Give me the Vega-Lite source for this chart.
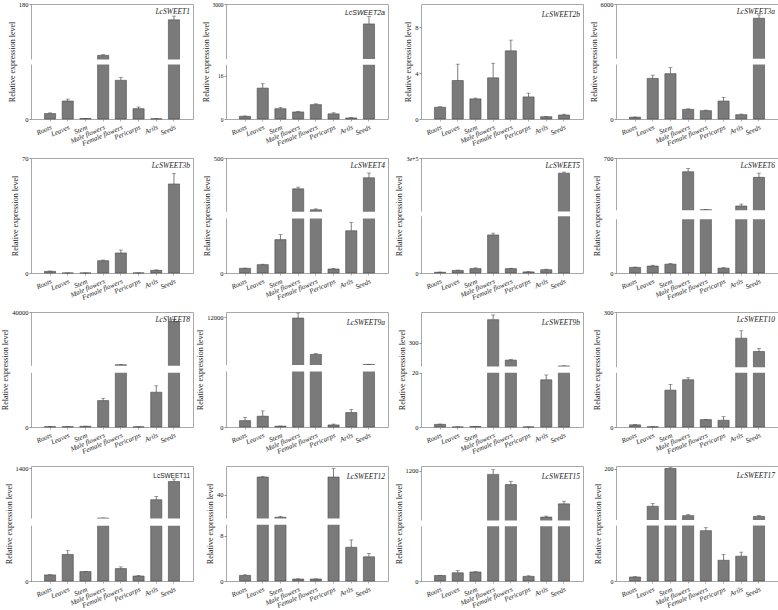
{
"$schema":"https://vega.github.io/schema/vega-lite/v6.json",
"padding":{"left":1,"top":0,"right":0,"bottom":0},
"background":"white",
"datasets":{"expr":[
{"gene":"LcSWEET1","tissue":"Roots","value":1.0,"upper":1.12},{"gene":"LcSWEET1","tissue":"Leaves","value":3.3,"upper":3.65},{"gene":"LcSWEET1","tissue":"Stem","value":0.1,"upper":0.12},{"gene":"LcSWEET1","tissue":"Male flowers","value":31,"upper":33},{"gene":"LcSWEET1","tissue":"Female flowers","value":7.1,"upper":7.65},{"gene":"LcSWEET1","tissue":"Pericarps","value":1.9,"upper":2.2},{"gene":"LcSWEET1","tissue":"Arils","value":0.05,"upper":0.06},{"gene":"LcSWEET1","tissue":"Seeds","value":134,"upper":145},
{"gene":"LcSWEET2a","tissue":"Roots","value":1.0,"upper":1.1},{"gene":"LcSWEET2a","tissue":"Leaves","value":11.4,"upper":13.0},{"gene":"LcSWEET2a","tissue":"Stem","value":3.8,"upper":4.2},{"gene":"LcSWEET2a","tissue":"Male flowers","value":2.6,"upper":2.8},{"gene":"LcSWEET2a","tissue":"Female flowers","value":5.3,"upper":5.6},{"gene":"LcSWEET2a","tissue":"Pericarps","value":1.9,"upper":2.3},{"gene":"LcSWEET2a","tissue":"Arils","value":0.4,"upper":0.5},{"gene":"LcSWEET2a","tissue":"Seeds","value":2270,"upper":2540},
{"gene":"LcSWEET2b","tissue":"Roots","value":1.02,"upper":1.07},{"gene":"LcSWEET2b","tissue":"Leaves","value":3.35,"upper":4.77},{"gene":"LcSWEET2b","tissue":"Stem","value":1.75,"upper":1.82},{"gene":"LcSWEET2b","tissue":"Male flowers","value":3.58,"upper":4.85},{"gene":"LcSWEET2b","tissue":"Female flowers","value":5.93,"upper":6.86},{"gene":"LcSWEET2b","tissue":"Pericarps","value":1.92,"upper":2.25},{"gene":"LcSWEET2b","tissue":"Arils","value":0.2,"upper":0.22},{"gene":"LcSWEET2b","tissue":"Seeds","value":0.35,"upper":0.42},
{"gene":"LcSWEET3a","tissue":"Roots","value":1.0,"upper":1.1},{"gene":"LcSWEET3a","tissue":"Leaves","value":22.4,"upper":24.2},{"gene":"LcSWEET3a","tissue":"Stem","value":25.0,"upper":28.3},{"gene":"LcSWEET3a","tissue":"Male flowers","value":5.3,"upper":5.6},{"gene":"LcSWEET3a","tissue":"Female flowers","value":4.6,"upper":4.9},{"gene":"LcSWEET3a","tissue":"Pericarps","value":9.9,"upper":11.9},{"gene":"LcSWEET3a","tissue":"Arils","value":2.4,"upper":2.7},{"gene":"LcSWEET3a","tissue":"Seeds","value":4700,"upper":5000},
{"gene":"LcSWEET3b","tissue":"Roots","value":1.0,"upper":1.2},{"gene":"LcSWEET3b","tissue":"Leaves","value":0.02,"upper":0.02},{"gene":"LcSWEET3b","tissue":"Stem","value":0.02,"upper":0.02},{"gene":"LcSWEET3b","tissue":"Male flowers","value":7.5,"upper":7.9},{"gene":"LcSWEET3b","tissue":"Female flowers","value":12.2,"upper":14.0},{"gene":"LcSWEET3b","tissue":"Pericarps","value":0.05,"upper":0.05},{"gene":"LcSWEET3b","tissue":"Arils","value":1.6,"upper":1.9},{"gene":"LcSWEET3b","tissue":"Seeds","value":54.2,"upper":60.6},
{"gene":"LcSWEET4","tissue":"Roots","value":1.03,"upper":1.08},{"gene":"LcSWEET4","tissue":"Leaves","value":1.84,"upper":1.94},{"gene":"LcSWEET4","tissue":"Stem","value":7.35,"upper":8.45},{"gene":"LcSWEET4","tissue":"Male flowers","value":246,"upper":260},{"gene":"LcSWEET4","tissue":"Female flowers","value":73,"upper":80},{"gene":"LcSWEET4","tissue":"Pericarps","value":0.88,"upper":1.03},{"gene":"LcSWEET4","tissue":"Arils","value":9.3,"upper":11.1},{"gene":"LcSWEET4","tissue":"Seeds","value":337,"upper":376},
{"gene":"LcSWEET5","tissue":"Roots","value":2,"upper":2.5},{"gene":"LcSWEET5","tissue":"Leaves","value":7,"upper":8},{"gene":"LcSWEET5","tissue":"Stem","value":12,"upper":14},{"gene":"LcSWEET5","tissue":"Male flowers","value":104,"upper":109},{"gene":"LcSWEET5","tissue":"Female flowers","value":12,"upper":13},{"gene":"LcSWEET5","tissue":"Pericarps","value":3,"upper":3.5},{"gene":"LcSWEET5","tissue":"Arils","value":9,"upper":10.5},{"gene":"LcSWEET5","tissue":"Seeds","value":215000,"upper":221000},
{"gene":"LcSWEET6","tissue":"Roots","value":1.05,"upper":1.1},{"gene":"LcSWEET6","tissue":"Leaves","value":1.3,"upper":1.45},{"gene":"LcSWEET6","tissue":"Stem","value":1.65,"upper":1.75},{"gene":"LcSWEET6","tissue":"Male flowers","value":528,"upper":570},{"gene":"LcSWEET6","tissue":"Female flowers","value":54,"upper":55},{"gene":"LcSWEET6","tissue":"Pericarps","value":0.9,"upper":1.0},{"gene":"LcSWEET6","tissue":"Arils","value":100,"upper":124},{"gene":"LcSWEET6","tissue":"Seeds","value":458,"upper":511},
{"gene":"LcSWEET8","tissue":"Roots","value":1,"upper":1.2},{"gene":"LcSWEET8","tissue":"Leaves","value":1,"upper":1.2},{"gene":"LcSWEET8","tissue":"Stem","value":2,"upper":2.5},{"gene":"LcSWEET8","tissue":"Male flowers","value":79,"upper":86},{"gene":"LcSWEET8","tissue":"Female flowers","value":1500,"upper":1600},{"gene":"LcSWEET8","tissue":"Pericarps","value":0.5,"upper":0.6},{"gene":"LcSWEET8","tissue":"Arils","value":104,"upper":123},{"gene":"LcSWEET8","tissue":"Seeds","value":33000,"upper":34600},
{"gene":"LcSWEET9a","tissue":"Roots","value":1.15,"upper":1.75},{"gene":"LcSWEET9a","tissue":"Leaves","value":1.95,"upper":2.9},{"gene":"LcSWEET9a","tissue":"Stem","value":0.15,"upper":0.17},{"gene":"LcSWEET9a","tissue":"Male flowers","value":11750,"upper":13000},{"gene":"LcSWEET9a","tissue":"Female flowers","value":2750,"upper":3000},{"gene":"LcSWEET9a","tissue":"Pericarps","value":0.37,"upper":0.52},{"gene":"LcSWEET9a","tissue":"Arils","value":2.6,"upper":3.15},{"gene":"LcSWEET9a","tissue":"Seeds","value":250,"upper":260},
{"gene":"LcSWEET9b","tissue":"Roots","value":0.98,"upper":1.1},{"gene":"LcSWEET9b","tissue":"Leaves","value":0.02,"upper":0.02},{"gene":"LcSWEET9b","tissue":"Stem","value":0.2,"upper":0.22},{"gene":"LcSWEET9b","tissue":"Male flowers","value":550,"upper":600},{"gene":"LcSWEET9b","tissue":"Female flowers","value":115,"upper":120},{"gene":"LcSWEET9b","tissue":"Pericarps","value":0.02,"upper":0.02},{"gene":"LcSWEET9b","tissue":"Arils","value":17.4,"upper":19.2},{"gene":"LcSWEET9b","tissue":"Seeds","value":52,"upper":53},
{"gene":"LcSWEET10","tissue":"Roots","value":1.0,"upper":1.1},{"gene":"LcSWEET10","tissue":"Leaves","value":0.1,"upper":0.12},{"gene":"LcSWEET10","tissue":"Stem","value":17.0,"upper":19.6},{"gene":"LcSWEET10","tissue":"Male flowers","value":21.8,"upper":22.7},{"gene":"LcSWEET10","tissue":"Female flowers","value":3.4,"upper":3.5},{"gene":"LcSWEET10","tissue":"Pericarps","value":3.1,"upper":4.75},{"gene":"LcSWEET10","tissue":"Arils","value":180,"upper":214},{"gene":"LcSWEET10","tissue":"Seeds","value":119,"upper":133},
{"gene":"LcSWEET11","tissue":"Roots","value":1.1,"upper":1.15},{"gene":"LcSWEET11","tissue":"Leaves","value":4.8,"upper":5.5},{"gene":"LcSWEET11","tissue":"Stem","value":1.7,"upper":1.75},{"gene":"LcSWEET11","tissue":"Male flowers","value":60,"upper":61},{"gene":"LcSWEET11","tissue":"Female flowers","value":2.25,"upper":2.55},{"gene":"LcSWEET11","tissue":"Pericarps","value":0.9,"upper":1.0},{"gene":"LcSWEET11","tissue":"Arils","value":555,"upper":645},{"gene":"LcSWEET11","tissue":"Seeds","value":1045,"upper":1110},
{"gene":"LcSWEET12","tissue":"Roots","value":1.0,"upper":1.1},{"gene":"LcSWEET12","tissue":"Leaves","value":59,"upper":59.8},{"gene":"LcSWEET12","tissue":"Stem","value":15.3,"upper":16.3},{"gene":"LcSWEET12","tissue":"Male flowers","value":0.35,"upper":0.38},{"gene":"LcSWEET12","tissue":"Female flowers","value":0.35,"upper":0.38},{"gene":"LcSWEET12","tissue":"Pericarps","value":59,"upper":68.5},{"gene":"LcSWEET12","tissue":"Arils","value":6.0,"upper":7.3},{"gene":"LcSWEET12","tissue":"Seeds","value":4.3,"upper":4.9},
{"gene":"LcSWEET15","tissue":"Roots","value":1.0,"upper":1.05},{"gene":"LcSWEET15","tissue":"Leaves","value":1.5,"upper":1.9},{"gene":"LcSWEET15","tissue":"Stem","value":1.65,"upper":1.7},{"gene":"LcSWEET15","tissue":"Male flowers","value":1116,"upper":1218},{"gene":"LcSWEET15","tissue":"Female flowers","value":891,"upper":964},{"gene":"LcSWEET15","tissue":"Pericarps","value":0.85,"upper":0.95},{"gene":"LcSWEET15","tissue":"Arils","value":178,"upper":200},{"gene":"LcSWEET15","tissue":"Seeds","value":469,"upper":527},
{"gene":"LcSWEET17","tissue":"Roots","value":1.08,"upper":1.15},{"gene":"LcSWEET17","tissue":"Leaves","value":67.6,"upper":77},{"gene":"LcSWEET17","tissue":"Stem","value":200,"upper":203},{"gene":"LcSWEET17","tissue":"Male flowers","value":34.7,"upper":39},{"gene":"LcSWEET17","tissue":"Female flowers","value":13.6,"upper":14.4},{"gene":"LcSWEET17","tissue":"Pericarps","value":5.6,"upper":7.2},{"gene":"LcSWEET17","tissue":"Arils","value":6.7,"upper":7.8},{"gene":"LcSWEET17","tissue":"Seeds","value":32,"upper":35}
]},
"concat":[
{"data":{"name":"expr"},"transform":[{"filter":"datum.gene == 'LcSWEET1'"}],"width":162,"height":115,"title":{"text":"LcSWEET1"},
"layer":[
{"mark":{"type":"bar","fill":"#7a7a7a","stroke":"#4a4a4a","strokeWidth":0.6},"encoding":{"x":{"field":"tissue","type":"nominal","sort":["Roots","Leaves","Stem","Male flowers","Female flowers","Pericarps","Arils","Seeds"],"title":null,"scale":{"paddingInner":0.37,"paddingOuter":0.76}},"y":{"field":"value","type":"quantitative","title":"Relative expression level","scale":{"domain":[0,10,19,180],"range":[115,60.5,55.5,0],"nice":false,"zero":false},"axis":{"labelOverlap":false,"labelSeparation":0,"values":[0,2,4,6,8,10,14.5,20,40,60,80,100,120,140,160,180],"format":"d","labelExpr":"datum.value == 14.5 ? '//' : datum.label","labelAlign":{"condition":{"test":"datum.value == 14.5","value":"left"},"value":"right"},"labelFontSize":{"condition":{"test":"datum.value == 14.5","value":10},"value":6.5},"labelColor":{"condition":{"test":"datum.value == 14.5","value":"#555"},"value":"#111"},"tickOpacity":{"condition":{"test":"datum.value == 14.5","value":0},"value":1}}}}},
{"mark":{"type":"rule","color":"#444","strokeWidth":0.7},"encoding":{"x":{"field":"tissue","type":"nominal","sort":["Roots","Leaves","Stem","Male flowers","Female flowers","Pericarps","Arils","Seeds"],"title":null},"y":{"field":"value","type":"quantitative","title":"Relative expression level"},"y2":{"field":"upper"}}},
{"mark":{"type":"tick","color":"#444","thickness":0.7,"size":4},"encoding":{"x":{"field":"tissue","type":"nominal","sort":["Roots","Leaves","Stem","Male flowers","Female flowers","Pericarps","Arils","Seeds"],"title":null},"y":{"field":"upper","type":"quantitative","title":"Relative expression level"}}},
{"data":{"values":[{"lo":10,"hi":19}]},"mark":{"type":"rect","fill":"white"},"encoding":{"y":{"field":"lo","type":"quantitative","title":"Relative expression level"},"y2":{"field":"hi"}}}
]},
{"data":{"name":"expr"},"transform":[{"filter":"datum.gene == 'LcSWEET2a'"}],"width":162,"height":115,"title":{"text":"LcSWEET2a","font":"Liberation Sans","fontSize":7},
"layer":[
{"mark":{"type":"bar","fill":"#7a7a7a","stroke":"#4a4a4a","strokeWidth":0.6},"encoding":{"x":{"field":"tissue","type":"nominal","sort":["Roots","Leaves","Stem","Male flowers","Female flowers","Pericarps","Arils","Seeds"],"title":null,"scale":{"paddingInner":0.37,"paddingOuter":0.76}},"y":{"field":"value","type":"quantitative","title":"Relative expression level","scale":{"domain":[0,20,980,3000],"range":[115,60.8,55,0],"nice":false,"zero":false},"axis":{"labelOverlap":false,"labelSeparation":0,"values":[0,2,4,6,8,10,12,14,16,18,20,500,1000,1500,2000,2500,3000],"format":"d","labelExpr":"datum.value == 500 ? '//' : datum.label","labelAlign":{"condition":{"test":"datum.value == 500","value":"left"},"value":"right"},"labelFontSize":{"condition":{"test":"datum.value == 500","value":10},"value":5.5},"labelColor":{"condition":{"test":"datum.value == 500","value":"#555"},"value":"#111"},"tickOpacity":{"condition":{"test":"datum.value == 500","value":0},"value":1}}}}},
{"mark":{"type":"rule","color":"#444","strokeWidth":0.7},"encoding":{"x":{"field":"tissue","type":"nominal","sort":["Roots","Leaves","Stem","Male flowers","Female flowers","Pericarps","Arils","Seeds"],"title":null},"y":{"field":"value","type":"quantitative","title":"Relative expression level"},"y2":{"field":"upper"}}},
{"mark":{"type":"tick","color":"#444","thickness":0.7,"size":4},"encoding":{"x":{"field":"tissue","type":"nominal","sort":["Roots","Leaves","Stem","Male flowers","Female flowers","Pericarps","Arils","Seeds"],"title":null},"y":{"field":"upper","type":"quantitative","title":"Relative expression level"}}},
{"data":{"values":[{"lo":20,"hi":980}]},"mark":{"type":"rect","fill":"white"},"encoding":{"y":{"field":"lo","type":"quantitative","title":"Relative expression level"},"y2":{"field":"hi"}}}
]},
{"data":{"name":"expr"},"transform":[{"filter":"datum.gene == 'LcSWEET2b'"}],"width":162,"height":115,"title":{"text":"LcSWEET2b"},
"layer":[
{"mark":{"type":"bar","fill":"#7a7a7a","stroke":"#4a4a4a","strokeWidth":0.6},"encoding":{"x":{"field":"tissue","type":"nominal","sort":["Roots","Leaves","Stem","Male flowers","Female flowers","Pericarps","Arils","Seeds"],"title":null,"scale":{"paddingInner":0.37,"paddingOuter":0.76}},"y":{"field":"value","type":"quantitative","title":"Relative expression level","scale":{"domain":[0,10],"nice":false,"zero":false},"axis":{"labelOverlap":false,"labelSeparation":0,"values":[0,2,4,6,8,10],"format":"d"}}}},
{"mark":{"type":"rule","color":"#444","strokeWidth":0.7},"encoding":{"x":{"field":"tissue","type":"nominal","sort":["Roots","Leaves","Stem","Male flowers","Female flowers","Pericarps","Arils","Seeds"],"title":null},"y":{"field":"value","type":"quantitative","title":"Relative expression level"},"y2":{"field":"upper"}}},
{"mark":{"type":"tick","color":"#444","thickness":0.7,"size":4},"encoding":{"x":{"field":"tissue","type":"nominal","sort":["Roots","Leaves","Stem","Male flowers","Female flowers","Pericarps","Arils","Seeds"],"title":null},"y":{"field":"upper","type":"quantitative","title":"Relative expression level"}}}
]},
{"data":{"name":"expr"},"transform":[{"filter":"datum.gene == 'LcSWEET3a'"}],"width":162,"height":115,"title":{"text":"LcSWEET3a"},
"layer":[
{"mark":{"type":"bar","fill":"#7a7a7a","stroke":"#4a4a4a","strokeWidth":0.6},"encoding":{"x":{"field":"tissue","type":"nominal","sort":["Roots","Leaves","Stem","Male flowers","Female flowers","Pericarps","Arils","Seeds"],"title":null,"scale":{"paddingInner":0.37,"paddingOuter":0.76}},"y":{"field":"value","type":"quantitative","title":"Relative expression level","scale":{"domain":[0,30,990,6000],"range":[115,60.6,54.8,0],"nice":false,"zero":false},"axis":{"labelOverlap":false,"labelSeparation":0,"values":[0,5,10,15,20,25,30,510,1000,2000,3000,4000,5000,6000],"format":"d","labelExpr":"datum.value == 510 ? '//' : datum.label","labelAlign":{"condition":{"test":"datum.value == 510","value":"left"},"value":"right"},"labelFontSize":{"condition":{"test":"datum.value == 510","value":10},"value":6.5},"labelColor":{"condition":{"test":"datum.value == 510","value":"#555"},"value":"#111"},"tickOpacity":{"condition":{"test":"datum.value == 510","value":0},"value":1}}}}},
{"mark":{"type":"rule","color":"#444","strokeWidth":0.7},"encoding":{"x":{"field":"tissue","type":"nominal","sort":["Roots","Leaves","Stem","Male flowers","Female flowers","Pericarps","Arils","Seeds"],"title":null},"y":{"field":"value","type":"quantitative","title":"Relative expression level"},"y2":{"field":"upper"}}},
{"mark":{"type":"tick","color":"#444","thickness":0.7,"size":4},"encoding":{"x":{"field":"tissue","type":"nominal","sort":["Roots","Leaves","Stem","Male flowers","Female flowers","Pericarps","Arils","Seeds"],"title":null},"y":{"field":"upper","type":"quantitative","title":"Relative expression level"}}},
{"data":{"values":[{"lo":30,"hi":990}]},"mark":{"type":"rect","fill":"white"},"encoding":{"y":{"field":"lo","type":"quantitative","title":"Relative expression level"},"y2":{"field":"hi"}}}
]},
{"data":{"name":"expr"},"transform":[{"filter":"datum.gene == 'LcSWEET3b'"}],"width":162,"height":115,"title":{"text":"LcSWEET3b"},
"layer":[
{"mark":{"type":"bar","fill":"#7a7a7a","stroke":"#4a4a4a","strokeWidth":0.6},"encoding":{"x":{"field":"tissue","type":"nominal","sort":["Roots","Leaves","Stem","Male flowers","Female flowers","Pericarps","Arils","Seeds"],"title":null,"scale":{"paddingInner":0.37,"paddingOuter":0.76}},"y":{"field":"value","type":"quantitative","title":"Relative expression level","scale":{"domain":[0,70],"nice":false,"zero":false},"axis":{"labelOverlap":false,"labelSeparation":0,"values":[0,10,20,30,40,50,60,70],"format":"d"}}}},
{"mark":{"type":"rule","color":"#444","strokeWidth":0.7},"encoding":{"x":{"field":"tissue","type":"nominal","sort":["Roots","Leaves","Stem","Male flowers","Female flowers","Pericarps","Arils","Seeds"],"title":null},"y":{"field":"value","type":"quantitative","title":"Relative expression level"},"y2":{"field":"upper"}}},
{"mark":{"type":"tick","color":"#444","thickness":0.7,"size":4},"encoding":{"x":{"field":"tissue","type":"nominal","sort":["Roots","Leaves","Stem","Male flowers","Female flowers","Pericarps","Arils","Seeds"],"title":null},"y":{"field":"upper","type":"quantitative","title":"Relative expression level"}}}
]},
{"data":{"name":"expr"},"transform":[{"filter":"datum.gene == 'LcSWEET4'"}],"width":162,"height":115,"title":{"text":"LcSWEET4"},
"layer":[
{"mark":{"type":"bar","fill":"#7a7a7a","stroke":"#4a4a4a","strokeWidth":0.6},"encoding":{"x":{"field":"tissue","type":"nominal","sort":["Roots","Leaves","Stem","Male flowers","Female flowers","Pericarps","Arils","Seeds"],"title":null,"scale":{"paddingInner":0.37,"paddingOuter":0.76}},"y":{"field":"value","type":"quantitative","title":"Relative expression level","scale":{"domain":[0,12,56,500],"range":[115,60.5,53.8,0],"nice":false,"zero":false},"axis":{"labelOverlap":false,"labelSeparation":0,"values":[0,2,4,6,8,10,12,34,100,200,300,400,500],"format":"d","labelExpr":"datum.value == 34 ? '//' : datum.label","labelAlign":{"condition":{"test":"datum.value == 34","value":"left"},"value":"right"},"labelFontSize":{"condition":{"test":"datum.value == 34","value":10},"value":6.5},"labelColor":{"condition":{"test":"datum.value == 34","value":"#555"},"value":"#111"},"tickOpacity":{"condition":{"test":"datum.value == 34","value":0},"value":1}}}}},
{"mark":{"type":"rule","color":"#444","strokeWidth":0.7},"encoding":{"x":{"field":"tissue","type":"nominal","sort":["Roots","Leaves","Stem","Male flowers","Female flowers","Pericarps","Arils","Seeds"],"title":null},"y":{"field":"value","type":"quantitative","title":"Relative expression level"},"y2":{"field":"upper"}}},
{"mark":{"type":"tick","color":"#444","thickness":0.7,"size":4},"encoding":{"x":{"field":"tissue","type":"nominal","sort":["Roots","Leaves","Stem","Male flowers","Female flowers","Pericarps","Arils","Seeds"],"title":null},"y":{"field":"upper","type":"quantitative","title":"Relative expression level"}}},
{"data":{"values":[{"lo":12,"hi":56}]},"mark":{"type":"rect","fill":"white"},"encoding":{"y":{"field":"lo","type":"quantitative","title":"Relative expression level"},"y2":{"field":"hi"}}}
]},
{"data":{"name":"expr"},"transform":[{"filter":"datum.gene == 'LcSWEET5'"}],"width":162,"height":115,"title":{"text":"LcSWEET5"},
"layer":[
{"mark":{"type":"bar","fill":"#7a7a7a","stroke":"#4a4a4a","strokeWidth":0.6},"encoding":{"x":{"field":"tissue","type":"nominal","sort":["Roots","Leaves","Stem","Male flowers","Female flowers","Pericarps","Arils","Seeds"],"title":null,"scale":{"paddingInner":0.37,"paddingOuter":0.76}},"y":{"field":"value","type":"quantitative","title":"Relative expression level","scale":{"domain":[0,155,200,300000],"range":[115,58.3,53.4,0],"nice":false,"zero":false},"axis":{"labelOverlap":false,"labelSeparation":0,"values":[0,20,40,60,80,100,120,140,177,50000,100000,150000,200000,250000,300000],"labelExpr":"datum.value == 177 ? '//' : (datum.value == 0 ? '0' : format(datum.value, '.0e'))","labelAlign":{"condition":{"test":"datum.value == 177","value":"left"},"value":"right"},"labelFontSize":{"condition":{"test":"datum.value == 177","value":10},"value":6},"labelColor":{"condition":{"test":"datum.value == 177","value":"#555"},"value":"#111"},"tickOpacity":{"condition":{"test":"datum.value == 177","value":0},"value":1}}}}},
{"mark":{"type":"rule","color":"#444","strokeWidth":0.7},"encoding":{"x":{"field":"tissue","type":"nominal","sort":["Roots","Leaves","Stem","Male flowers","Female flowers","Pericarps","Arils","Seeds"],"title":null},"y":{"field":"value","type":"quantitative","title":"Relative expression level"},"y2":{"field":"upper"}}},
{"mark":{"type":"tick","color":"#444","thickness":0.7,"size":4},"encoding":{"x":{"field":"tissue","type":"nominal","sort":["Roots","Leaves","Stem","Male flowers","Female flowers","Pericarps","Arils","Seeds"],"title":null},"y":{"field":"upper","type":"quantitative","title":"Relative expression level"}}},
{"data":{"values":[{"lo":155,"hi":200}]},"mark":{"type":"rect","fill":"white"},"encoding":{"y":{"field":"lo","type":"quantitative","title":"Relative expression level"},"y2":{"field":"hi"}}}
]},
{"data":{"name":"expr"},"transform":[{"filter":"datum.gene == 'LcSWEET6'"}],"width":162,"height":115,"title":{"text":"LcSWEET6"},
"layer":[
{"mark":{"type":"bar","fill":"#7a7a7a","stroke":"#4a4a4a","strokeWidth":0.6},"encoding":{"x":{"field":"tissue","type":"nominal","sort":["Roots","Leaves","Stem","Male flowers","Female flowers","Pericarps","Arils","Seeds"],"title":null,"scale":{"paddingInner":0.37,"paddingOuter":0.76}},"y":{"field":"value","type":"quantitative","title":"Relative expression level","scale":{"domain":[0,10,46,700],"range":[115,61.3,52.3,0],"nice":false,"zero":false},"axis":{"labelOverlap":false,"labelSeparation":0,"values":[0,2,4,6,8,10,28,100,200,300,400,500,600,700],"format":"d","labelExpr":"datum.value == 28 ? '//' : datum.label","labelAlign":{"condition":{"test":"datum.value == 28","value":"left"},"value":"right"},"labelFontSize":{"condition":{"test":"datum.value == 28","value":10},"value":6.5},"labelColor":{"condition":{"test":"datum.value == 28","value":"#555"},"value":"#111"},"tickOpacity":{"condition":{"test":"datum.value == 28","value":0},"value":1}}}}},
{"mark":{"type":"rule","color":"#444","strokeWidth":0.7},"encoding":{"x":{"field":"tissue","type":"nominal","sort":["Roots","Leaves","Stem","Male flowers","Female flowers","Pericarps","Arils","Seeds"],"title":null},"y":{"field":"value","type":"quantitative","title":"Relative expression level"},"y2":{"field":"upper"}}},
{"mark":{"type":"tick","color":"#444","thickness":0.7,"size":4},"encoding":{"x":{"field":"tissue","type":"nominal","sort":["Roots","Leaves","Stem","Male flowers","Female flowers","Pericarps","Arils","Seeds"],"title":null},"y":{"field":"upper","type":"quantitative","title":"Relative expression level"}}},
{"data":{"values":[{"lo":10,"hi":46}]},"mark":{"type":"rect","fill":"white"},"encoding":{"y":{"field":"lo","type":"quantitative","title":"Relative expression level"},"y2":{"field":"hi"}}}
]},
{"data":{"name":"expr"},"transform":[{"filter":"datum.gene == 'LcSWEET8'"}],"width":162,"height":115,"title":{"text":"LcSWEET8"},
"layer":[
{"mark":{"type":"bar","fill":"#7a7a7a","stroke":"#4a4a4a","strokeWidth":0.6},"encoding":{"x":{"field":"tissue","type":"nominal","sort":["Roots","Leaves","Stem","Male flowers","Female flowers","Pericarps","Arils","Seeds"],"title":null,"scale":{"paddingInner":0.37,"paddingOuter":0.76}},"y":{"field":"value","type":"quantitative","title":"Relative expression level","scale":{"domain":[0,162,730,40000],"range":[115,60.8,53.8,0],"nice":false,"zero":false},"axis":{"labelOverlap":false,"labelSeparation":0,"values":[0,20,40,60,80,100,120,140,446,10000,20000,30000,40000],"format":"d","labelExpr":"datum.value == 446 ? '//' : datum.label","labelAlign":{"condition":{"test":"datum.value == 446","value":"left"},"value":"right"},"labelFontSize":{"condition":{"test":"datum.value == 446","value":10},"value":6.5},"labelColor":{"condition":{"test":"datum.value == 446","value":"#555"},"value":"#111"},"tickOpacity":{"condition":{"test":"datum.value == 446","value":0},"value":1}}}}},
{"mark":{"type":"rule","color":"#444","strokeWidth":0.7},"encoding":{"x":{"field":"tissue","type":"nominal","sort":["Roots","Leaves","Stem","Male flowers","Female flowers","Pericarps","Arils","Seeds"],"title":null},"y":{"field":"value","type":"quantitative","title":"Relative expression level"},"y2":{"field":"upper"}}},
{"mark":{"type":"tick","color":"#444","thickness":0.7,"size":4},"encoding":{"x":{"field":"tissue","type":"nominal","sort":["Roots","Leaves","Stem","Male flowers","Female flowers","Pericarps","Arils","Seeds"],"title":null},"y":{"field":"upper","type":"quantitative","title":"Relative expression level"}}},
{"data":{"values":[{"lo":162,"hi":730}]},"mark":{"type":"rect","fill":"white"},"encoding":{"y":{"field":"lo","type":"quantitative","title":"Relative expression level"},"y2":{"field":"hi"}}}
]},
{"data":{"name":"expr"},"transform":[{"filter":"datum.gene == 'LcSWEET9a'"}],"width":162,"height":115,"title":{"text":"LcSWEET9a"},
"layer":[
{"mark":{"type":"bar","fill":"#7a7a7a","stroke":"#4a4a4a","strokeWidth":0.6},"encoding":{"x":{"field":"tissue","type":"nominal","sort":["Roots","Leaves","Stem","Male flowers","Female flowers","Pericarps","Arils","Seeds"],"title":null,"scale":{"paddingInner":0.37,"paddingOuter":0.76}},"y":{"field":"value","type":"quantitative","title":"Relative expression level","scale":{"domain":[0,10,83,13250],"range":[115,59.5,53.1,0],"nice":false,"zero":false},"axis":{"labelOverlap":false,"labelSeparation":0,"values":[0,2,4,6,8,10,46,2000,4000,6000,8000,10000,12000],"format":"d","labelExpr":"datum.value == 46 ? '//' : datum.label","labelAlign":{"condition":{"test":"datum.value == 46","value":"left"},"value":"right"},"labelFontSize":{"condition":{"test":"datum.value == 46","value":10},"value":6.5},"labelColor":{"condition":{"test":"datum.value == 46","value":"#555"},"value":"#111"},"tickOpacity":{"condition":{"test":"datum.value == 46","value":0},"value":1}}}}},
{"mark":{"type":"rule","color":"#444","strokeWidth":0.7},"encoding":{"x":{"field":"tissue","type":"nominal","sort":["Roots","Leaves","Stem","Male flowers","Female flowers","Pericarps","Arils","Seeds"],"title":null},"y":{"field":"value","type":"quantitative","title":"Relative expression level"},"y2":{"field":"upper"}}},
{"mark":{"type":"tick","color":"#444","thickness":0.7,"size":4},"encoding":{"x":{"field":"tissue","type":"nominal","sort":["Roots","Leaves","Stem","Male flowers","Female flowers","Pericarps","Arils","Seeds"],"title":null},"y":{"field":"upper","type":"quantitative","title":"Relative expression level"}}},
{"data":{"values":[{"lo":10,"hi":83}]},"mark":{"type":"rect","fill":"white"},"encoding":{"y":{"field":"lo","type":"quantitative","title":"Relative expression level"},"y2":{"field":"hi"}}}
]},
{"data":{"name":"expr"},"transform":[{"filter":"datum.gene == 'LcSWEET9b'"}],"width":162,"height":115,"title":{"text":"LcSWEET9b"},
"layer":[
{"mark":{"type":"bar","fill":"#7a7a7a","stroke":"#4a4a4a","strokeWidth":0.6},"encoding":{"x":{"field":"tissue","type":"nominal","sort":["Roots","Leaves","Stem","Male flowers","Female flowers","Pericarps","Arils","Seeds"],"title":null,"scale":{"paddingInner":0.37,"paddingOuter":0.76}},"y":{"field":"value","type":"quantitative","title":"Relative expression level","scale":{"domain":[0,20,46,632],"range":[115,60.8,54.5,0],"nice":false,"zero":false},"axis":{"labelOverlap":false,"labelSeparation":0,"values":[0,5,10,15,20,33,100,200,300,400,500,600],"format":"d","labelExpr":"datum.value == 33 ? '//' : datum.label","labelAlign":{"condition":{"test":"datum.value == 33","value":"left"},"value":"right"},"labelFontSize":{"condition":{"test":"datum.value == 33","value":10},"value":6.5},"labelColor":{"condition":{"test":"datum.value == 33","value":"#555"},"value":"#111"},"tickOpacity":{"condition":{"test":"datum.value == 33","value":0},"value":1}}}}},
{"mark":{"type":"rule","color":"#444","strokeWidth":0.7},"encoding":{"x":{"field":"tissue","type":"nominal","sort":["Roots","Leaves","Stem","Male flowers","Female flowers","Pericarps","Arils","Seeds"],"title":null},"y":{"field":"value","type":"quantitative","title":"Relative expression level"},"y2":{"field":"upper"}}},
{"mark":{"type":"tick","color":"#444","thickness":0.7,"size":4},"encoding":{"x":{"field":"tissue","type":"nominal","sort":["Roots","Leaves","Stem","Male flowers","Female flowers","Pericarps","Arils","Seeds"],"title":null},"y":{"field":"upper","type":"quantitative","title":"Relative expression level"}}},
{"data":{"values":[{"lo":20,"hi":46}]},"mark":{"type":"rect","fill":"white"},"encoding":{"y":{"field":"lo","type":"quantitative","title":"Relative expression level"},"y2":{"field":"hi"}}}
]},
{"data":{"name":"expr"},"transform":[{"filter":"datum.gene == 'LcSWEET10'"}],"width":162,"height":115,"title":{"text":"LcSWEET10"},
"layer":[
{"mark":{"type":"bar","fill":"#7a7a7a","stroke":"#4a4a4a","strokeWidth":0.6},"encoding":{"x":{"field":"tissue","type":"nominal","sort":["Roots","Leaves","Stem","Male flowers","Female flowers","Pericarps","Arils","Seeds"],"title":null,"scale":{"paddingInner":0.37,"paddingOuter":0.76}},"y":{"field":"value","type":"quantitative","title":"Relative expression level","scale":{"domain":[0,25,47,300],"range":[115,60.8,55.2,0],"nice":false,"zero":false},"axis":{"labelOverlap":false,"labelSeparation":0,"values":[0,5,10,15,20,25,36,50,100,150,200,250,300],"format":"d","labelExpr":"datum.value == 36 ? '//' : datum.label","labelAlign":{"condition":{"test":"datum.value == 36","value":"left"},"value":"right"},"labelFontSize":{"condition":{"test":"datum.value == 36","value":10},"value":6.5},"labelColor":{"condition":{"test":"datum.value == 36","value":"#555"},"value":"#111"},"tickOpacity":{"condition":{"test":"datum.value == 36","value":0},"value":1}}}}},
{"mark":{"type":"rule","color":"#444","strokeWidth":0.7},"encoding":{"x":{"field":"tissue","type":"nominal","sort":["Roots","Leaves","Stem","Male flowers","Female flowers","Pericarps","Arils","Seeds"],"title":null},"y":{"field":"value","type":"quantitative","title":"Relative expression level"},"y2":{"field":"upper"}}},
{"mark":{"type":"tick","color":"#444","thickness":0.7,"size":4},"encoding":{"x":{"field":"tissue","type":"nominal","sort":["Roots","Leaves","Stem","Male flowers","Female flowers","Pericarps","Arils","Seeds"],"title":null},"y":{"field":"upper","type":"quantitative","title":"Relative expression level"}}},
{"data":{"values":[{"lo":25,"hi":47}]},"mark":{"type":"rect","fill":"white"},"encoding":{"y":{"field":"lo","type":"quantitative","title":"Relative expression level"},"y2":{"field":"hi"}}}
]},
{"data":{"name":"expr"},"transform":[{"filter":"datum.gene == 'LcSWEET11'"}],"width":162,"height":115,"title":{"text":"LcSWEET11","font":"Liberation Sans","fontStyle":"normal","fontSize":6.5},
"layer":[
{"mark":{"type":"bar","fill":"#7a7a7a","stroke":"#4a4a4a","strokeWidth":0.6},"encoding":{"x":{"field":"tissue","type":"nominal","sort":["Roots","Leaves","Stem","Male flowers","Female flowers","Pericarps","Arils","Seeds"],"title":null,"scale":{"paddingInner":0.37,"paddingOuter":0.76}},"y":{"field":"value","type":"quantitative","title":"Relative expression level","scale":{"domain":[0,10,45,1464],"range":[115,59.7,52.6,0],"nice":false,"zero":false},"axis":{"labelOverlap":false,"labelSeparation":0,"values":[0,2,4,6,8,10,27,200,400,600,800,1000,1200,1400],"format":"d","labelExpr":"datum.value == 27 ? '//' : datum.label","labelAlign":{"condition":{"test":"datum.value == 27","value":"left"},"value":"right"},"labelFontSize":{"condition":{"test":"datum.value == 27","value":10},"value":6.5},"labelColor":{"condition":{"test":"datum.value == 27","value":"#555"},"value":"#111"},"tickOpacity":{"condition":{"test":"datum.value == 27","value":0},"value":1}}}}},
{"mark":{"type":"rule","color":"#444","strokeWidth":0.7},"encoding":{"x":{"field":"tissue","type":"nominal","sort":["Roots","Leaves","Stem","Male flowers","Female flowers","Pericarps","Arils","Seeds"],"title":null},"y":{"field":"value","type":"quantitative","title":"Relative expression level"},"y2":{"field":"upper"}}},
{"mark":{"type":"tick","color":"#444","thickness":0.7,"size":4},"encoding":{"x":{"field":"tissue","type":"nominal","sort":["Roots","Leaves","Stem","Male flowers","Female flowers","Pericarps","Arils","Seeds"],"title":null},"y":{"field":"upper","type":"quantitative","title":"Relative expression level"}}},
{"data":{"values":[{"lo":10,"hi":45}]},"mark":{"type":"rect","fill":"white"},"encoding":{"y":{"field":"lo","type":"quantitative","title":"Relative expression level"},"y2":{"field":"hi"}}}
]},
{"data":{"name":"expr"},"transform":[{"filter":"datum.gene == 'LcSWEET12'"}],"width":162,"height":115,"title":{"text":"LcSWEET12"},
"layer":[
{"mark":{"type":"bar","fill":"#7a7a7a","stroke":"#4a4a4a","strokeWidth":0.6},"encoding":{"x":{"field":"tissue","type":"nominal","sort":["Roots","Leaves","Stem","Male flowers","Female flowers","Pericarps","Arils","Seeds"],"title":null,"scale":{"paddingInner":0.37,"paddingOuter":0.76}},"y":{"field":"value","type":"quantitative","title":"Relative expression level","scale":{"domain":[0,10,13.8,71],"range":[115,58.7,52.6,0],"nice":false,"zero":false},"axis":{"labelOverlap":false,"labelSeparation":0,"values":[0,2,4,6,8,10,11.9,20,40,60],"format":"d","labelExpr":"datum.value == 11.9 ? '//' : datum.label","labelAlign":{"condition":{"test":"datum.value == 11.9","value":"left"},"value":"right"},"labelFontSize":{"condition":{"test":"datum.value == 11.9","value":10},"value":6.5},"labelColor":{"condition":{"test":"datum.value == 11.9","value":"#555"},"value":"#111"},"tickOpacity":{"condition":{"test":"datum.value == 11.9","value":0},"value":1}}}}},
{"mark":{"type":"rule","color":"#444","strokeWidth":0.7},"encoding":{"x":{"field":"tissue","type":"nominal","sort":["Roots","Leaves","Stem","Male flowers","Female flowers","Pericarps","Arils","Seeds"],"title":null},"y":{"field":"value","type":"quantitative","title":"Relative expression level"},"y2":{"field":"upper"}}},
{"mark":{"type":"tick","color":"#444","thickness":0.7,"size":4},"encoding":{"x":{"field":"tissue","type":"nominal","sort":["Roots","Leaves","Stem","Male flowers","Female flowers","Pericarps","Arils","Seeds"],"title":null},"y":{"field":"upper","type":"quantitative","title":"Relative expression level"}}},
{"data":{"values":[{"lo":10,"hi":13.8}]},"mark":{"type":"rect","fill":"white"},"encoding":{"y":{"field":"lo","type":"quantitative","title":"Relative expression level"},"y2":{"field":"hi"}}}
]},
{"data":{"name":"expr"},"transform":[{"filter":"datum.gene == 'LcSWEET15'"}],"width":162,"height":115,"title":{"text":"LcSWEET15"},
"layer":[
{"mark":{"type":"bar","fill":"#7a7a7a","stroke":"#4a4a4a","strokeWidth":0.6},"encoding":{"x":{"field":"tissue","type":"nominal","sort":["Roots","Leaves","Stem","Male flowers","Female flowers","Pericarps","Arils","Seeds"],"title":null,"scale":{"paddingInner":0.37,"paddingOuter":0.76}},"y":{"field":"value","type":"quantitative","title":"Relative expression level","scale":{"domain":[0,10,105,1300],"range":[115,60.3,54.4,0],"nice":false,"zero":false},"axis":{"labelOverlap":false,"labelSeparation":0,"values":[0,2,4,6,8,10,57,200,400,600,800,1000,1200],"format":"d","labelExpr":"datum.value == 57 ? '//' : datum.label","labelAlign":{"condition":{"test":"datum.value == 57","value":"left"},"value":"right"},"labelFontSize":{"condition":{"test":"datum.value == 57","value":10},"value":6.5},"labelColor":{"condition":{"test":"datum.value == 57","value":"#555"},"value":"#111"},"tickOpacity":{"condition":{"test":"datum.value == 57","value":0},"value":1}}}}},
{"mark":{"type":"rule","color":"#444","strokeWidth":0.7},"encoding":{"x":{"field":"tissue","type":"nominal","sort":["Roots","Leaves","Stem","Male flowers","Female flowers","Pericarps","Arils","Seeds"],"title":null},"y":{"field":"value","type":"quantitative","title":"Relative expression level"},"y2":{"field":"upper"}}},
{"mark":{"type":"tick","color":"#444","thickness":0.7,"size":4},"encoding":{"x":{"field":"tissue","type":"nominal","sort":["Roots","Leaves","Stem","Male flowers","Female flowers","Pericarps","Arils","Seeds"],"title":null},"y":{"field":"upper","type":"quantitative","title":"Relative expression level"}}},
{"data":{"values":[{"lo":10,"hi":105}]},"mark":{"type":"rect","fill":"white"},"encoding":{"y":{"field":"lo","type":"quantitative","title":"Relative expression level"},"y2":{"field":"hi"}}}
]},
{"data":{"name":"expr"},"transform":[{"filter":"datum.gene == 'LcSWEET17'"}],"width":162,"height":115,"title":{"text":"LcSWEET17"},
"layer":[
{"mark":{"type":"bar","fill":"#7a7a7a","stroke":"#4a4a4a","strokeWidth":0.6},"encoding":{"x":{"field":"tissue","type":"nominal","sort":["Roots","Leaves","Stem","Male flowers","Female flowers","Pericarps","Arils","Seeds"],"title":null,"scale":{"paddingInner":0.37,"paddingOuter":0.76}},"y":{"field":"value","type":"quantitative","title":"Relative expression level","scale":{"domain":[0,15,19,209],"range":[115,59.5,54.1,0],"nice":false,"zero":false},"axis":{"labelOverlap":false,"labelSeparation":0,"values":[0,2,4,6,8,10,12,14,17,50,100,150,200],"format":"d","labelExpr":"datum.value == 17 ? '//' : datum.label","labelAlign":{"condition":{"test":"datum.value == 17","value":"left"},"value":"right"},"labelFontSize":{"condition":{"test":"datum.value == 17","value":10},"value":6},"labelColor":{"condition":{"test":"datum.value == 17","value":"#555"},"value":"#111"},"tickOpacity":{"condition":{"test":"datum.value == 17","value":0},"value":1}}}}},
{"mark":{"type":"rule","color":"#444","strokeWidth":0.7},"encoding":{"x":{"field":"tissue","type":"nominal","sort":["Roots","Leaves","Stem","Male flowers","Female flowers","Pericarps","Arils","Seeds"],"title":null},"y":{"field":"value","type":"quantitative","title":"Relative expression level"},"y2":{"field":"upper"}}},
{"mark":{"type":"tick","color":"#444","thickness":0.7,"size":4},"encoding":{"x":{"field":"tissue","type":"nominal","sort":["Roots","Leaves","Stem","Male flowers","Female flowers","Pericarps","Arils","Seeds"],"title":null},"y":{"field":"upper","type":"quantitative","title":"Relative expression level"}}},
{"data":{"values":[{"lo":15,"hi":19}]},"mark":{"type":"rect","fill":"white"},"encoding":{"y":{"field":"lo","type":"quantitative","title":"Relative expression level"},"y2":{"field":"hi"}}}
]}
],
"columns":4,
"spacing":{"row":39,"column":33},
"bounds":"flush",
"config":{
"view":{"stroke":"#a8a8a8","strokeWidth":1},
"axis":{"domain":false,"grid":false,"labelFont":"Liberation Serif","titleFont":"Liberation Serif","labelOverlap":false},
"axisY":{"tickSize":2,"tickColor":"#666","tickWidth":0.7,"labelFontSize":6.5,"labelPadding":1,"labelColor":"#111","titleFontSize":8,"titlePadding":2,"titleColor":"#222","titleFontWeight":"normal","labelOverlap":false,"labelFlush":false,"labelBound":false,"minExtent":0,"zindex":1},
"axisX":{"labelAngle":-23,"labelAlign":"right","labelBaseline":"top","labelFontSize":7,"labelFontStyle":"italic","labelColor":"#222","tickSize":2,"tickColor":"#777","tickWidth":0.6,"labelPadding":2,"labelOverlap":false},
"title":{"anchor":"end","frame":"group","orient":"top","offset":-14,"baseline":"top","font":"Liberation Serif","fontStyle":"italic","fontSize":7.5,"fontWeight":"normal","color":"#222","dx":-3}
}
}
